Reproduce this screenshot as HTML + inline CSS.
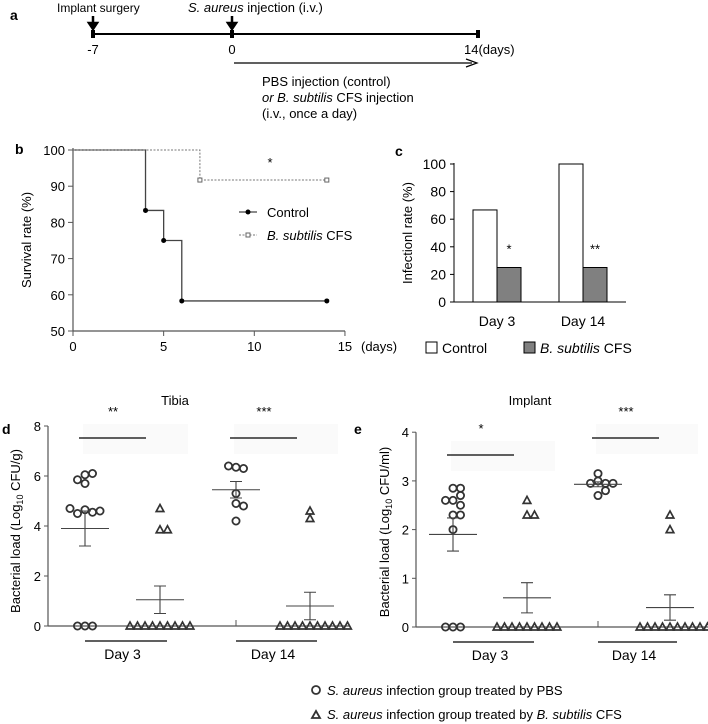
<!DOCTYPE html>
<html><head><meta charset="utf-8"><style>
body{margin:0;background:#fff}
svg{display:block;font-family:"Liberation Sans",Arial,sans-serif}
</style></head><body>
<svg id="fig" width="708" height="724" viewBox="0 0 708 724">
<g id="pa">
 <text x="10" y="20" font-weight="bold" font-size="14">a</text>
 <text x="57" y="12" font-size="12">Implant surgery</text>
 <text x="188" y="12" font-size="13"><tspan font-style="italic">S. aureus</tspan> injection (i.v.)</text>
 <path d="M93 16V26M89 23L93 29L97 23Z" stroke="#000" stroke-width="2.5" fill="#000"/>
 <path d="M232 16V26M228 23L232 29L236 23Z" stroke="#000" stroke-width="2.5" fill="#000"/>
 <line x1="93" y1="34" x2="479" y2="34" stroke="#000" stroke-width="2"/>
 <rect x="91" y="30" width="4" height="8"/><rect x="230" y="30" width="4" height="8"/><rect x="476" y="30" width="4" height="8"/>
 <text x="93" y="54" font-size="13" text-anchor="middle">-7</text>
 <text x="232" y="54" font-size="13" text-anchor="middle">0</text>
 <text x="464" y="54" font-size="13">14(days)</text>
 <line x1="234" y1="63" x2="472" y2="63" stroke="#000" stroke-width="1.2"/>
 <path d="M466 59L477 63L466 67" fill="none" stroke="#000" stroke-width="1.2"/>
 <text x="262" y="86" font-size="13">PBS injection (control)</text>
 <text x="262" y="102" font-size="13"><tspan font-style="italic">or B. subtilis</tspan> CFS  injection</text>
 <text x="262" y="118" font-size="13">(i.v., once a day)</text>
</g>
<g id="pb"></g>
<g id="pc"></g>
<g id="pd"></g>
<g id="pe"></g>
<g>
 <circle cx="316" cy="690" r="4" fill="none" stroke="#333" stroke-width="1.8"/>
 <text x="327" y="695" font-size="13"><tspan font-style="italic">S. aureus</tspan> infection group treated by PBS</text>
 <path d="M312 718L316 711L320 718Z" fill="none" stroke="#333" stroke-width="1.8"/>
 <text x="327" y="719" font-size="13"><tspan font-style="italic">S. aureus</tspan> infection group treated by <tspan font-style="italic">B. subtilis</tspan> CFS</text>
</g>
</svg>
<script>
// Panel b data
const survDaysCtrl=[0,4,5,6,14];
const survCtrl=[100,83.3,75,58.3,58.3];
const survDaysCfs=[0,7,14];
const survCfs=[100,91.7,91.7];
const survTicksX=[0,5,10,15];
const survTicksY=[50,60,70,80,90,100];
// Panel c data
const infCats=["Day 3","Day 14"];
const infCtrl=[66.7,100];
const infCfs=[25,25];
const infSig=["*","**"];
const infTicks=[0,20,40,60,80,100];
// Panel d data
const tibD3Pbs=[6.05,6.1,5.7,5.85,4.65,4.55,4.5,4.6,4.7,0,0,0];
const tibD3Cfs=[4.7,3.85,3.85,0,0,0,0,0,0,0,0,0];
const tibD14Pbs=[6.35,6.3,6.4,5.3,4.9,4.8,4.2];
const tibD14Cfs=[4.6,4.3,0,0,0,0,0,0,0,0,0,0];
const tibMeans=[3.9,1.05,5.45,0.8];
const tibSE=[0.7,0.55,0.33,0.55];
const tibTicks=[0,2,4,6,8];
const tibSig=["**","***"];
// Panel e data
const impD3Pbs=[2.85,2.85,2.6,2.7,2.6,2.5,2.3,2.3,2.0,0,0,0];
const impD3Cfs=[2.6,2.3,2.3,0,0,0,0,0,0,0,0,0];
const impD14Pbs=[3.0,2.95,2.95,2.95,3.15,2.7,2.8];
const impD14Cfs=[2.3,2.0,0,0,0,0,0,0,0,0,0,0];
const impMeans=[1.9,0.6,2.93,0.4];
const impSE=[0.34,0.31,0.05,0.26];
const impTicks=[0,1,2,3,4];
const impSig=["*","***"];

const NS="http://www.w3.org/2000/svg";
function mk(p,tag,a,txt){const e=document.createElementNS(NS,tag);for(const k in a)e.setAttribute(k,a[k]);if(txt!==undefined)e.textContent=txt;p.appendChild(e);return e;}

// ---------- Panel b ----------
(function(){
const g=document.getElementById('pb');
const X=d=>73+d*18.13, Y=v=>331-(v-50)*3.62;
mk(g,'text',{x:15,y:154,'font-weight':'bold','font-size':14},'b');
mk(g,'line',{x1:73,y1:148,x2:73,y2:331,stroke:'#555','stroke-width':1.2});
mk(g,'line',{x1:73,y1:331,x2:345,y2:331,stroke:'#555','stroke-width':1.2});
survTicksY.forEach(t=>{mk(g,'line',{x1:68,x2:73,y1:Y(t),y2:Y(t),stroke:'#555'});
 const e=mk(g,'text',{x:65,y:Y(t)+5,'font-size':13,'text-anchor':'end'},t);
 
 });
survTicksX.forEach(t=>{mk(g,'line',{x1:X(t),x2:X(t),y1:331,y2:336,stroke:'#555'});
 const e=mk(g,'text',{x:X(t),y:351,'font-size':13,'text-anchor':'middle'},t);
 
 });
mk(g,'text',{x:361,y:351,'font-size':13},'(days)');
const yt=mk(g,'text',{transform:'translate(31,240) rotate(-90)','font-size':13,'text-anchor':'middle'},'Survival rate (%)');

function step(xs,vs){let d=`M${X(xs[0])} ${Y(vs[0])}`;for(let i=1;i<xs.length;i++){d+=` H${X(xs[i])} V${Y(vs[i])}`;}return d;}
const lc=mk(g,'path',{d:step(survDaysCtrl,survCtrl),fill:'none',stroke:'#444','stroke-width':1.3});


const lf=mk(g,'path',{d:step(survDaysCfs,survCfs),fill:'none',stroke:'#777','stroke-width':1,'stroke-dasharray':'2,1.5'});


survDaysCtrl.forEach((d,i)=>{if(i>0){const c=mk(g,'circle',{cx:X(d),cy:Y(survCtrl[i]),r:2.5,fill:'#000'});
 
 }});
survDaysCfs.forEach((d,i)=>{if(i>0){const c=mk(g,'rect',{x:X(d)-2,y:Y(survCfs[i])-2,width:4,height:4,fill:'#fff',stroke:'#666'});
 
 }});
mk(g,'text',{x:270,y:167,'font-size':13,'text-anchor':'middle'},'*');
mk(g,'line',{x1:239,x2:257,y1:212,y2:212,stroke:'#444','stroke-width':1.3});
mk(g,'circle',{cx:248,cy:212,r:2.5});
mk(g,'text',{x:267,y:217,'font-size':13},'Control');
mk(g,'line',{x1:239,x2:257,y1:235,y2:235,stroke:'#777','stroke-dasharray':'2,1.5'});
mk(g,'rect',{x:246,y:233,width:4,height:4,fill:'#fff',stroke:'#666'});
const lt=mk(g,'text',{x:267,y:240,'font-size':13});lt.innerHTML='<tspan font-style="italic">B. subtilis</tspan> CFS';
})();

// ---------- Panel c ----------
(function(){
const g=document.getElementById('pc');
const Y=v=>302-v*1.38;
const cx=[497,583];
mk(g,'text',{x:395,y:156,'font-weight':'bold','font-size':14},'c');
mk(g,'line',{x1:454,y1:163,x2:454,y2:302,stroke:'#000'});
mk(g,'line',{x1:454,y1:302,x2:626,y2:302,stroke:'#000'});
infTicks.forEach(t=>{mk(g,'line',{x1:450,x2:454,y1:Y(t),y2:Y(t),stroke:'#000'});
 const e=mk(g,'text',{x:446,y:Y(t)+5,'font-size':14,'text-anchor':'end'},t);
 
 });
mk(g,'text',{transform:'translate(412,233) rotate(-90)','font-size':13,'text-anchor':'middle'},'Infectionl rate (%)');
infCats.forEach((c,i)=>{
 const b1=mk(g,'rect',{x:cx[i]-24,y:Y(infCtrl[i]),width:24,height:302-Y(infCtrl[i]),fill:'#fff',stroke:'#000'});
 
 
 const b2=mk(g,'rect',{x:cx[i],y:Y(infCfs[i]),width:24,height:302-Y(infCfs[i]),fill:'#808080',stroke:'#000'});
 
 
 mk(g,'text',{x:cx[i]+12,y:Y(infCfs[i])-14,'font-size':13,'text-anchor':'middle'},infSig[i]);
 mk(g,'text',{x:cx[i],y:326,'font-size':14,'text-anchor':'middle'},c);
});
mk(g,'rect',{x:426,y:342,width:11,height:11,fill:'#fff',stroke:'#000'});
mk(g,'text',{x:442,y:353,'font-size':14},'Control');
mk(g,'rect',{x:524,y:342,width:11,height:11,fill:'#808080',stroke:'#000'});
const t=mk(g,'text',{x:540,y:353,'font-size':14});t.innerHTML='<tspan font-style="italic">B. subtilis</tspan> CFS';
})();

// ---------- Dot plots ----------
function dotPlot(id,o){
const g=document.getElementById(id);
const Y=v=>o.y0-v*o.ppu;
mk(g,'text',{x:o.lx,y:o.ly,'font-weight':'bold','font-size':14},o.label);
mk(g,'text',{x:o.tx,y:405,'font-size':13,'text-anchor':'middle'},o.title);
mk(g,'line',{x1:o.ax,y1:Y(o.ticks[o.ticks.length-1]),x2:o.ax,y2:o.y0,stroke:'#555','stroke-width':1.2});
mk(g,'line',{x1:o.ax,y1:o.y0,x2:o.ax2,y2:o.y0,stroke:'#555','stroke-width':1.2});
o.ticks.forEach(t=>{mk(g,'line',{x1:o.ax-4,x2:o.ax,y1:Y(t),y2:Y(t),stroke:'#555'});
 const e=mk(g,'text',{x:o.ax-7,y:Y(t)+5,'font-size':13,'text-anchor':'end'},t);
 
 });
const yt=mk(g,'text',{transform:`translate(${o.ytx},${o.y0-95}) rotate(-90)`,'font-size':13,'text-anchor':'middle'});
yt.innerHTML=o.ytitle;
mk(g,'line',{x1:o.cx[2],x2:o.cx[2],y1:o.y0-6,y2:o.y0,stroke:'#555'});
[0,2].forEach((si,i)=>{
 const a=o.cx[si],b=o.cx[si+1];
 mk(g,'rect',{x:a-2,y:o.sigY[i]-14,width:(b-a)+30,height:30,fill:'#fafafa'});
});
o.series.forEach((vals,si)=>{
 const placed=[];const cx=o.cx[si];
 vals.forEach(v=>{const py=Y(v);let off=0;
  for(let k=0;k<40;k++){const c=(k%2?1:-1)*Math.ceil(k/2)*7.5;
   if(placed.every(p=>Math.hypot(p[0]-(cx+c),p[1]-py)>7)){off=c;break;}}
  placed.push([cx+off,py]);
  let e;
  if(si%2===0) e=mk(g,'circle',{cx:cx+off,cy:py,r:3.6,fill:'none',stroke:'#333','stroke-width':1.8});
  else e=mk(g,'path',{d:`M${cx+off-3.8} ${py+3}L${cx+off} ${py-4}L${cx+off+3.8} ${py+3}Z`,fill:'none',stroke:'#333','stroke-width':1.7});
  
  
 });
 const m=o.means[si],s=o.se[si];
 const ml=mk(g,'line',{x1:cx-24,x2:cx+24,y1:Y(m),y2:Y(m),stroke:'#444','stroke-width':1.1});
 
 
 mk(g,'path',{d:`M${cx} ${Y(m+s)}V${Y(m-s)}M${cx-6} ${Y(m+s)}H${cx+6}M${cx-6} ${Y(m-s)}H${cx+6}`,stroke:'#444','stroke-width':1.1,fill:'none'});
});
[0,2].forEach((si,i)=>{
 const a=o.cx[si],b=o.cx[si+1];
 mk(g,'line',{x1:a-6,x2:a+61,y1:o.sigY[i],y2:o.sigY[i],stroke:'#000','stroke-width':1.2});
 mk(g,'text',{x:a+28,y:o.sigY[i]-22,'font-size':13,'text-anchor':'middle'},o.sig[i]);
 mk(g,'line',{x1:a,x2:b+7,y1:o.y0+15,y2:o.y0+15,stroke:'#000','stroke-width':1.2});
 mk(g,'text',{x:(a+b)/2,y:o.y0+33,'font-size':14,'text-anchor':'middle'},o.days[i]);
});
}
dotPlot('pd',{label:'d',lx:2,ly:434,title:'Tibia',tx:175,ax:48,ax2:350,y0:626,ppu:25,ticks:tibTicks,ytx:20,
 ytitle:'Bacterial load  (Log<tspan font-size="9" dy="3">10</tspan><tspan dy="-3"> CFU/g)</tspan>',
 cx:[85,160,236,310],series:[tibD3Pbs,tibD3Cfs,tibD14Pbs,tibD14Cfs],means:tibMeans,se:tibSE,sig:tibSig,sigY:[438,438],days:['Day 3','Day 14']});
dotPlot('pe',{label:'e',lx:354,ly:434,title:'Implant',tx:530,ax:416,ax2:708,y0:627,ppu:48.7,ticks:impTicks,ytx:389,
 ytitle:'Bacterial load  (Log<tspan font-size="9" dy="3">10</tspan><tspan dy="-3"> CFU/ml)</tspan>',
 cx:[453,527,598,670],series:[impD3Pbs,impD3Cfs,impD14Pbs,impD14Cfs],means:impMeans,se:impSE,sig:impSig,sigY:[455,438],days:['Day 3','Day 14']});
</script>
</body></html>
